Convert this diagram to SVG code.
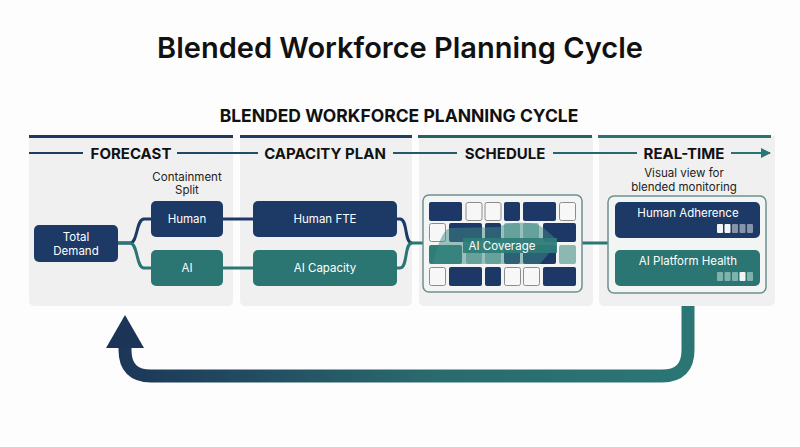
<svg xmlns="http://www.w3.org/2000/svg" width="800" height="447" viewBox="0 0 800 447">
<defs>
<linearGradient id="hdrGrad" gradientUnits="userSpaceOnUse" x1="29" y1="0" x2="772" y2="0">
<stop offset="0" stop-color="#1d3a5e"/><stop offset="1" stop-color="#2a7674"/>
</linearGradient>
<linearGradient id="retGrad" gradientUnits="userSpaceOnUse" x1="110" y1="0" x2="700" y2="0">
<stop offset="0" stop-color="#1c3557"/><stop offset="0.55" stop-color="#2a6b6e"/><stop offset="1" stop-color="#2b7775"/>
</linearGradient>
<marker id="arrowHead" viewBox="0 0 10 10" refX="9" refY="5" markerWidth="5" markerHeight="5" orient="auto" markerUnits="strokeWidth">
<path d="M0,0 L10,5 L0,10 Z" fill="#2a7674"/>
</marker>
</defs>
<style>
.title{font-family:Inter,"Liberation Sans",sans-serif;font-weight:600;fill:#111;}
.sub{font-family:Inter,"Liberation Sans",sans-serif;font-weight:700;fill:#111;}
.hdr{font-family:Inter,"Liberation Sans",sans-serif;font-weight:700;font-size:15px;fill:#111;text-anchor:middle;}
.body{font-family:Inter,"Liberation Sans",sans-serif;font-size:11.5px;fill:#222;text-anchor:middle;}
.wt{font-family:Inter,"Liberation Sans",sans-serif;font-size:11.5px;fill:#fff;text-anchor:middle;}
.panel{fill:#f0f0f0;}
.navy{fill:#1d3a66;}
.teal{fill:#2b7672;}
.cellN{fill:#1d3766;}
.cellW{fill:#f7f7f7;stroke:#8c8c8c;stroke-width:1;}
.cellT{fill:#2f7d78;}
.cellL{fill:#8db7b1;}
.hline{stroke:url(#hdrGrad);stroke-width:2;fill:none;}
.conN{stroke:#1d3a66;stroke-width:3;fill:none;}
.conT{stroke:#2b7672;stroke-width:3;fill:none;}
</style>
<rect width="800" height="447" fill="#fdfdfd"/>
<text class="title" x="400" y="58" font-size="29" text-anchor="middle">Blended Workforce Planning Cycle</text>
<text class="sub" x="399" y="122" font-size="17.5" text-anchor="middle">BLENDED WORKFORCE PLANNING CYCLE</text>

<g id="panels">
<path class="panel" d="M29,136 H233 V300 Q233,306 227,306 H35 Q29,306 29,300 Z"/>
<path class="panel" d="M240,136 H412 V300 Q412,306 406,306 H246 Q240,306 240,300 Z"/>
<path class="panel" d="M419,136 H593 V300 Q593,306 587,306 H425 Q419,306 419,300 Z"/>
<path class="panel" d="M599,136 H775 V300 Q775,306 769,306 H605 Q599,306 599,300 Z"/>
<rect x="29" y="135" width="204" height="3" fill="#1d3a5e"/>
<rect x="240" y="135" width="172" height="3" fill="#1f3f60"/>
<rect x="418" y="135" width="174" height="3" fill="#266168"/>
<rect x="598" y="135" width="173" height="3" fill="#2a7372"/>
</g>

<g id="headers">
<line class="hline" x1="29" y1="153" x2="83" y2="153"/>
<line class="hline" x1="177" y1="153" x2="258" y2="153"/>
<line class="hline" x1="393" y1="153" x2="457" y2="153"/>
<line class="hline" x1="553" y1="153" x2="637" y2="153"/>
<line class="hline" x1="731" y1="153" x2="770" y2="153" marker-end="url(#arrowHead)"/>
<text class="hdr" x="131" y="159">FORECAST</text>
<text class="hdr" x="325" y="159">CAPACITY PLAN</text>
<text class="hdr" x="505" y="159">SCHEDULE</text>
<text class="hdr" x="684" y="159">REAL-TIME</text>
</g>

<g id="connectors">
<path class="conN" d="M118,243 H130 C138,243 136,219 144,219 H151"/>
<path class="conT" d="M118,243 H130 C138,243 136,268 144,268 H151"/>
<path class="conN" d="M223,219 H253"/>
<path class="conT" d="M223,268 H253"/>
<path class="conN" d="M397,219 H400 C408,219 404,243 412,243"/>
<path class="conT" d="M397,268 H400 C408,268 404,243 412,243 H423"/>
<path class="conT" d="M582,243 H608"/>
</g>

<g id="split-label">
<text class="body" x="187" y="181">Containment</text>
<text class="body" x="187" y="194">Split</text>
</g>

<g id="total-demand">
<rect class="navy" x="34" y="225" width="84" height="37" rx="5"/>
<text class="wt" x="76" y="241">Total</text>
<text class="wt" x="76" y="255">Demand</text>
</g>
<g id="human">
<rect class="navy" x="151" y="201" width="72" height="36" rx="5"/>
<text class="wt" x="187" y="223">Human</text>
</g>
<g id="ai">
<rect class="teal" x="151" y="250" width="72" height="36" rx="5"/>
<text class="wt" x="187" y="272">AI</text>
</g>
<g id="human-fte">
<rect class="navy" x="253" y="201" width="144" height="36" rx="5"/>
<text class="wt" x="325" y="223">Human FTE</text>
</g>
<g id="ai-capacity">
<rect class="teal" x="253" y="250" width="144" height="36" rx="5"/>
<text class="wt" x="325" y="272">AI Capacity</text>
</g>

<g id="schedule-grid">
<rect x="423" y="195" width="159" height="97" rx="6" fill="#f3f4f4" stroke="#6f8f8f" stroke-width="1.5"/>
<rect class="cellN" x="429" y="202" width="33" height="19" rx="2"/>
<rect class="cellW" x="466" y="202.5" width="16" height="18" rx="2"/>
<rect class="cellW" x="485" y="202.5" width="16" height="18" rx="2"/>
<rect class="cellN" x="504" y="202" width="16" height="19" rx="2"/>
<rect class="cellN" x="523" y="202" width="33" height="19" rx="2"/>
<rect class="cellW" x="559.5" y="202.5" width="16" height="18" rx="2"/>
<rect class="cellW" x="429.5" y="223.5" width="16" height="18" rx="2"/>
<rect class="cellN" x="449" y="223" width="33" height="19" rx="2"/>
<rect class="cellN" x="485" y="223" width="16" height="19" rx="2"/>
<rect class="cellL" x="504" y="223" width="16" height="19" rx="2"/>
<rect class="cellL" x="523" y="223" width="16" height="19" rx="2"/>
<rect class="cellN" x="543" y="223" width="33" height="19" rx="2"/>
<rect class="cellT" x="429" y="245" width="33" height="19" rx="2"/>
<rect class="cellL" x="466" y="245" width="16" height="19" rx="2"/>
<rect class="cellL" x="485" y="245" width="16" height="19" rx="2"/>
<rect class="cellN" x="504" y="245" width="16" height="19" rx="2"/>
<rect class="cellN" x="523" y="245" width="33" height="19" rx="2"/>
<rect class="cellL" x="559" y="245" width="17" height="19" rx="2"/>
<rect class="cellW" x="429.5" y="267.5" width="16" height="18" rx="2"/>
<rect class="cellN" x="449" y="267" width="33" height="19" rx="2"/>
<rect class="cellN" x="485" y="267" width="16" height="19" rx="2"/>
<rect class="cellW" x="504.5" y="267.5" width="16" height="18" rx="2"/>
<rect class="cellW" x="523.5" y="267.5" width="16" height="18" rx="2"/>
<rect class="cellN" x="543" y="267" width="33" height="19" rx="2"/>
<path d="M431,264 C436,262 438,232 450,228 L500,227 C504,222 534,221 540,226 C546,229 550,234 555,238 L555,246 L540,264 Z" fill="#3f8b85" fill-opacity="0.5"/>
<rect x="463" y="238" width="94" height="15" fill="#2f7d78" fill-opacity="0.92"/>
<text class="wt" x="502" y="249.5">AI Coverage</text>
</g>

<g id="realtime-label">
<text class="body" x="684" y="177">Visual view for</text>
<text class="body" x="684" y="191">blended monitoring</text>
</g>

<g id="realtime-box">
<rect x="608" y="196" width="158" height="97" rx="6" fill="#f3f4f4" stroke="#6f8f8f" stroke-width="1.5"/>
</g>
<g id="human-adherence">
<rect class="navy" x="615" y="202" width="145" height="36" rx="5"/>
<text class="wt" x="688" y="217">Human Adherence</text>
<rect x="717" y="224" width="6" height="9" rx="1" fill="#f4f4f4"/>
<rect x="724.5" y="224" width="6" height="9" rx="1" fill="#f4f4f4"/>
<rect x="732" y="224" width="6" height="9" rx="1" fill="#8793a8"/>
<rect x="739.5" y="224" width="6" height="9" rx="1" fill="#8793a8"/>
<rect x="747" y="224" width="6" height="9" rx="1" fill="#8793a8"/>
</g>
<g id="ai-platform-health">
<rect class="teal" x="615" y="250" width="145" height="36" rx="5"/>
<text class="wt" x="688" y="265">AI Platform Health</text>
<rect x="717" y="272" width="6" height="9" rx="1" fill="#80b1ab"/>
<rect x="724.5" y="272" width="6" height="9" rx="1" fill="#80b1ab"/>
<rect x="732" y="272" width="6" height="9" rx="1" fill="#80b1ab"/>
<rect x="739.5" y="272" width="6" height="9" rx="1" fill="#f4f4f4"/>
<rect x="747" y="272" width="6" height="9" rx="1" fill="#80b1ab"/>
</g>

<g id="return-arrow">
<path d="M688,306 V350 Q688,376 662,376 H151 Q125,376 125,350 V346" stroke="url(#retGrad)" stroke-width="13" fill="none"/>
<polygon points="106,348 144,348 125,315" fill="#1c3557"/>
</g>
</svg>
